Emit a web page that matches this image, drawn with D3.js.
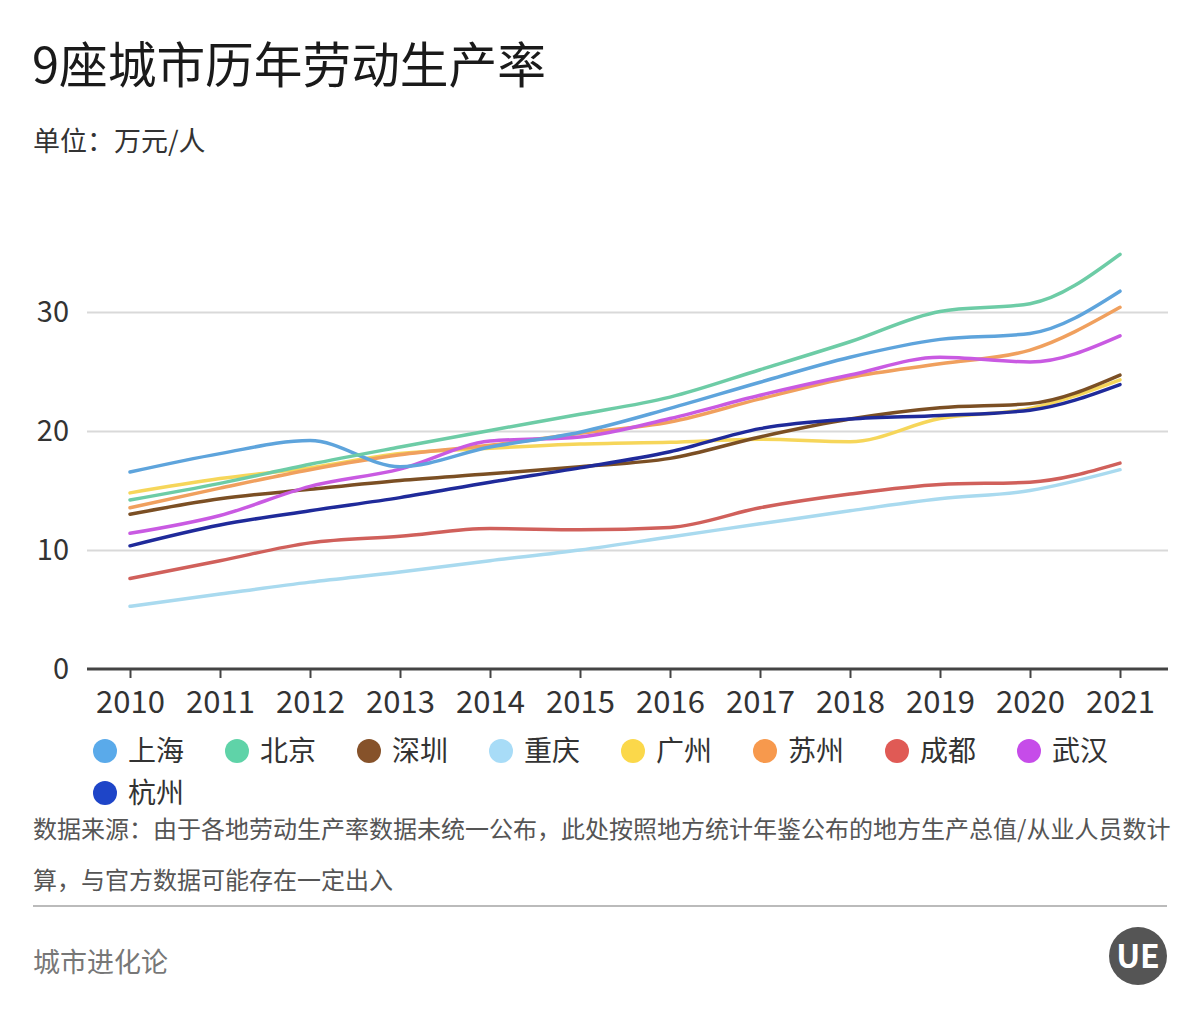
<!DOCTYPE html>
<html>
<head>
<meta charset="utf-8">
<script src="https://cdn.jsdelivr.net/npm/d3@7"></script>
<style>
  html, body { margin: 0; padding: 0; background: #fff; }
  svg { display: block; font-family: "Noto Sans CJK SC", "Noto Sans", sans-serif; }
</style>
</head>
<body>
<svg id="chart" width="1200" height="1020"></svg>
<script>
const years = ["2010","2011","2012","2013","2014","2015","2016","2017","2018","2019","2020","2021"];
const cities = ["上海","北京","深圳","重庆","广州","苏州","成都","武汉","杭州"];
const shanghai  = [16.55, 18.1, 19.2, 17.0, 18.65, 19.9, 21.9, 24.1, 26.2, 27.7, 28.2, 31.75];
const beijing   = [14.2, 15.6, 17.2, 18.65, 20.05, 21.4, 22.85, 25.15, 27.5, 30.05, 30.7, 34.85];
const shenzhen  = [13.0, 14.3, 15.1, 15.85, 16.4, 17.0, 17.7, 19.5, 21.0, 21.95, 22.3, 24.7];
const chongqing = [5.27, 6.3, 7.3, 8.15, 9.1, 10.0, 11.1, 12.2, 13.3, 14.3, 15.0, 16.75];
const guangzhou = [14.8, 16.0, 16.9, 18.1, 18.55, 18.9, 19.05, 19.3, 19.1, 21.05, 21.9, 24.3];
const suzhou    = [13.55, 15.2, 16.75, 18.0, 18.8, 19.8, 20.75, 22.7, 24.5, 25.65, 26.8, 30.4];
const chengdu   = [7.6, 9.1, 10.6, 11.15, 11.8, 11.7, 11.9, 13.55, 14.7, 15.5, 15.7, 17.3];
const wuhan     = [11.4, 12.9, 15.35, 16.8, 19.15, 19.5, 21.05, 23.0, 24.7, 26.2, 25.8, 28.0];
const hangzhou  = [10.35, 12.1, 13.3, 14.4, 15.7, 16.9, 18.25, 20.2, 21.0, 21.3, 21.75, 23.9];
const yTicks = [0, 10, 20, 30];

const seriesValues = [shanghai, beijing, shenzhen, chongqing, guangzhou, suzhou, chengdu, wuhan, hangzhou];
const lineColors = ["#5ea4dc","#6dcca6","#7b4f24","#a9daef","#f6d65a","#f0a05e","#d0605b","#c95ae2","#1f2a9a"];
const dotColors  = ["#5aaaea","#5fd3a8","#86522a","#a8dcf7","#fbd84a","#f7994d","#e05a55","#c64ce9","#1e45c8"];

const svg = d3.select("#chart");

// Title & subtitle
svg.append("text").attr("x", 32).attr("y", 83)
  .attr("font-size", 48.7).attr("fill", "#1a1a1a").text("9座城市历年劳动生产率");
svg.append("text").attr("x", 33).attr("y", 151)
  .attr("font-size", 27).attr("fill", "#333").text("单位：万元/人");

const x = d3.scalePoint().domain(years).range([130, 1120]);
const y = d3.scaleLinear().domain([0, 30]).range([669, 312]);
const left = 87, right = 1168;

// Gridlines + y labels
const gy = svg.append("g").attr("transform", `translate(${left},0)`)
  .call(d3.axisLeft(y).tickValues(yTicks).tickSize(-(right - left)).tickPadding(18));
gy.select(".domain").remove();
gy.selectAll(".tick line").attr("stroke", "#d9d9d9").attr("stroke-width", 2)
  .filter(d => d === 0).remove();
gy.selectAll(".tick text").attr("font-size", 29).attr("fill", "#333")
  .attr("font-family", "\"Noto Sans CJK SC\", sans-serif");

// X axis
const gx = svg.append("g").attr("transform", `translate(0,${y(0)})`)
  .call(d3.axisBottom(x).tickSize(9).tickPadding(13));
gx.select(".domain").attr("d", `M${left},0H${right}`).attr("stroke", "#444").attr("stroke-width", 3);
gx.selectAll(".tick line").attr("stroke", "#444").attr("stroke-width", 2);
gx.selectAll(".tick text").attr("font-size", 31).attr("fill", "#333")
  .attr("font-family", "\"Noto Sans CJK SC\", sans-serif");

// Lines
const line = d3.line()
  .x((d, i) => x(years[i]))
  .y(d => y(d))
  .curve(d3.curveMonotoneX);

const drawOrder = [3, 6, 4, 2, 8, 5, 7, 0, 1];
svg.append("g").selectAll("path")
  .data(drawOrder)
  .join("path")
  .attr("d", k => line(seriesValues[k]))
  .attr("fill", "none")
  .attr("stroke", k => lineColors[k])
  .attr("stroke-width", 3.5)
  .attr("stroke-linecap", "round");

// Legend
const legendItems = cities.map((c, i) => ({ name: c, i }));
const lg = svg.append("g");
legendItems.forEach((d, i) => {
  const row = i < 8 ? 0 : 1;
  const col = i < 8 ? i : 0;
  const cx = 105 + col * 132;
  const cy = 751 + row * 42;
  lg.append("circle").attr("cx", cx).attr("cy", cy).attr("r", 12).attr("fill", dotColors[d.i]);
  lg.append("text").attr("x", cx + 23).attr("y", cy + 10)
    .attr("font-size", 28).attr("fill", "#333").text(d.name);
});

// Footer
svg.append("text").attr("x", 33).attr("y", 838).attr("font-size", 24).attr("fill", "#555")
  .text("数据来源：由于各地劳动生产率数据未统一公布，此处按照地方统计年鉴公布的地方生产总值/从业人员数计");
svg.append("text").attr("x", 33).attr("y", 889).attr("font-size", 24).attr("fill", "#555")
  .text("算，与官方数据可能存在一定出入");
svg.append("line").attr("x1", 33).attr("x2", 1167).attr("y1", 906).attr("y2", 906)
  .attr("stroke", "#bbb").attr("stroke-width", 2);
svg.append("text").attr("x", 33).attr("y", 972).attr("font-size", 27).attr("fill", "#777")
  .text("城市进化论");

// Logo
svg.append("circle").attr("cx", 1138).attr("cy", 956).attr("r", 29).attr("fill", "#555");
svg.append("text").attr("x", 1138).attr("y", 968).attr("text-anchor", "middle")
  .attr("font-size", 32).attr("font-weight", "bold").attr("fill", "#fff")
  .attr("font-family", "\"Noto Sans CJK SC\", sans-serif").text("UE");
</script>
</body>
</html>
